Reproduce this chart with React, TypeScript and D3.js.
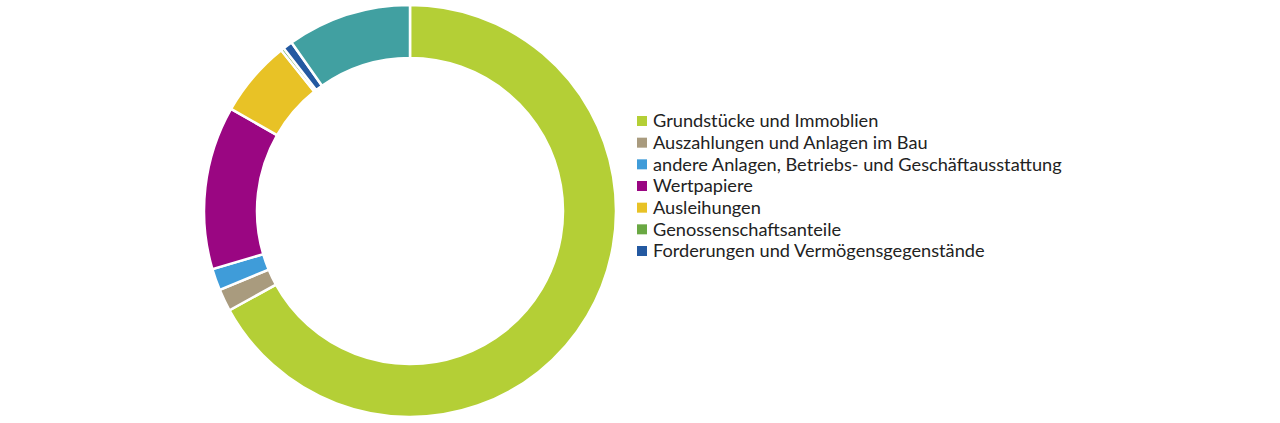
import React, { useEffect, useRef } from 'react';
import * as d3 from 'd3';

const categories = [
  'Grundstücke und Immoblien',
  'Auszahlungen und Anlagen im Bau',
  'andere Anlagen, Betriebs- und Geschäftausstattung',
  'Wertpapiere',
  'Ausleihungen',
  'Genossenschaftsanteile',
  'Forderungen und Vermögensgegenstände',
  'Sonstiges',
];
const shares = [67.0, 1.75, 1.7, 12.8, 6.0, 0.25, 0.75, 9.75];
const colors = ['#b4cf36', '#a99b7e', '#3f9cd9', '#9a0682', '#e8c226', '#6aa843', '#2459a1', '#41a0a1'];
const legendCount = 7;

const App = () => {
  const svgRef = useRef(null);

  useEffect(() => {
    const width = 1280;
    const height = 423;
    const cx = 410;
    const cy = 211;
    const outer = 206;
    const inner = 153;

    const svg = d3.select(svgRef.current);
    svg.selectAll('*').remove();
    svg.attr('width', width).attr('height', height);

    const data = categories.map((name, i) => ({ name, value: shares[i], color: colors[i] }));

    const pie = d3.pie<any>().sort(null).value((d) => d.value);
    const arc = d3.arc<any>().innerRadius(inner).outerRadius(outer);

    const g = svg.append('g').attr('transform', `translate(${cx},${cy})`);
    g.selectAll('path')
      .data(pie(data))
      .enter()
      .append('path')
      .attr('d', arc)
      .attr('fill', (d) => d.data.color)
      .attr('stroke', 'white')
      .attr('stroke-width', 2.5);

    // legend
    const y = d3.scalePoint().domain(categories.slice(0, legendCount)).range([121, 251]);
    const legend = svg
      .append('g')
      .selectAll('g')
      .data(data.slice(0, legendCount))
      .enter()
      .append('g')
      .attr('transform', (d) => `translate(637,${y(d.name)})`);
    legend
      .append('rect')
      .attr('x', 0)
      .attr('y', -5)
      .attr('width', 10)
      .attr('height', 10)
      .attr('fill', (d) => d.color);
    legend
      .append('text')
      .attr('x', 16)
      .attr('y', 0)
      .attr('dy', '0.35em')
      .attr('font-family', 'Lato, sans-serif')
      .attr('font-size', 18.2)
      .attr('fill', '#222')
      .text((d) => d.name);
  }, []);

  return (
    <div style={{ position: 'absolute', left: 0, top: 0 }}>
      <svg ref={svgRef} style={{ display: 'block' }}></svg>
    </div>
  );
};

export default App;
